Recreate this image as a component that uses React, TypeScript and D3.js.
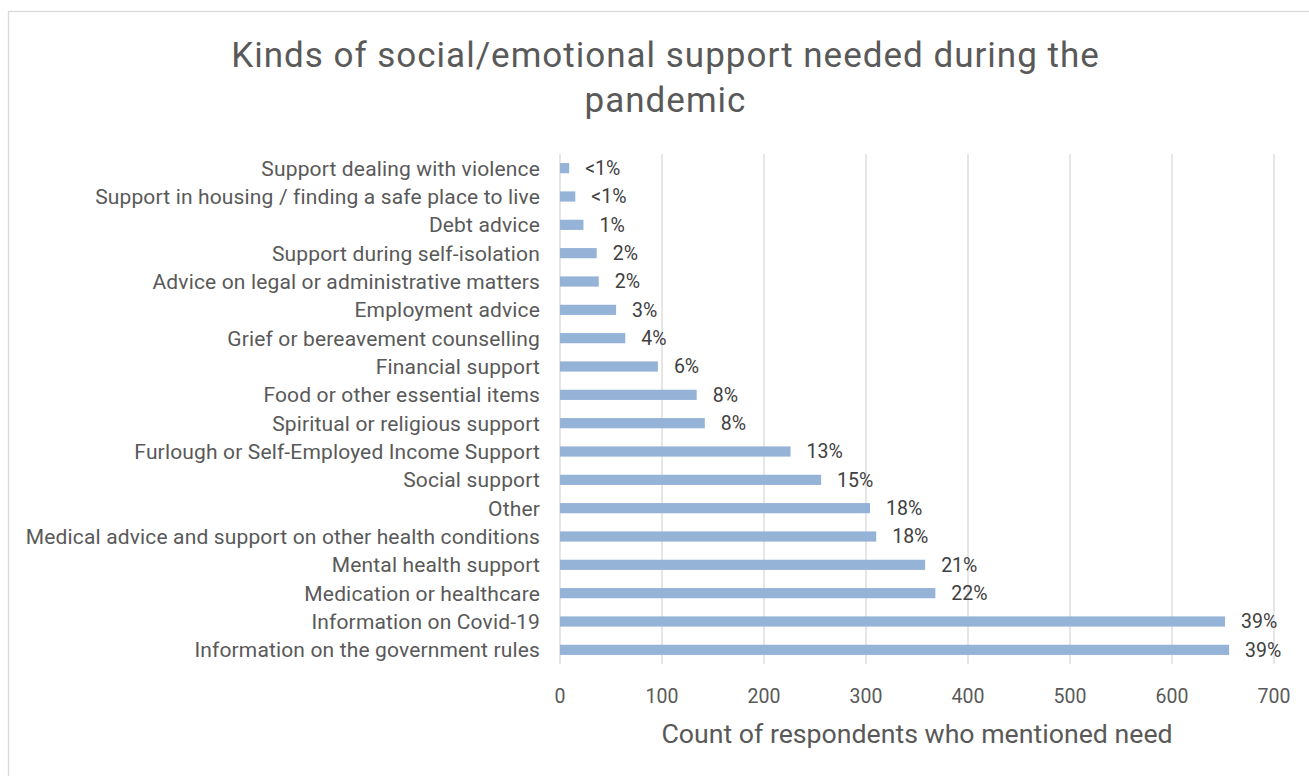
import React from "react";
import * as d3 from "d3";

const categories = [
  "Support dealing with violence",
  "Support in housing / finding a safe place to live",
  "Debt advice",
  "Support during self-isolation",
  "Advice on legal or administrative matters",
  "Employment advice",
  "Grief or bereavement counselling",
  "Financial support",
  "Food or other essential items",
  "Spiritual or religious support",
  "Furlough or Self-Employed Income Support",
  "Social support",
  "Other",
  "Medical advice and support on other health conditions",
  "Mental health support",
  "Medication or healthcare",
  "Information on Covid-19",
  "Information on the government rules",
];
const counts = [9, 15, 23, 36, 38, 55, 64, 96, 134, 142, 226, 256, 304, 310, 358, 368, 652, 656];
const pctLabels = ["<1%", "<1%", "1%", "2%", "2%", "3%", "4%", "6%", "8%", "8%", "13%", "15%", "18%", "18%", "21%", "22%", "39%", "39%"];
const xTicks = [0, 100, 200, 300, 400, 500, 600, 700];
const titleLines = ["Kinds of social/emotional support needed during the", "pandemic"];
const axisTitle = "Count of respondents who mentioned need";

const W = 1309, H = 776;
const plot = { left: 560, right: 1274, top: 154, bottom: 664 };
const FONT = "Roboto, 'Noto Sans', sans-serif";

export default function App() {
  const x = d3.scaleLinear().domain([0, 700]).range([plot.left, plot.right]);
  const y = d3.scaleBand<string>().domain(categories).range([plot.top, plot.bottom]).paddingInner(0.64).paddingOuter(0.32);
  const cx = (plot.left + plot.right) / 2;
  return (
    <svg width={W} height={H} style={{ position: "absolute", left: 0, top: 0, background: "#fff" }} fontFamily={FONT}>
      <rect x={8.5} y={11.5} width={W + 10} height={H + 10} fill="#fff" stroke="#d9d9d9" strokeWidth={1.3} />
      {titleLines.map((t, i) => (
        <text key={i} x={665.5} y={67 + i * 44.5} textAnchor="middle" fontSize={35} letterSpacing={1} fill="#595959">{t}</text>
      ))}
      {xTicks.map((t) => (
        <g key={t}>
          <line x1={x(t)} x2={x(t)} y1={plot.top} y2={plot.bottom} stroke="#d9d9d9" strokeWidth={1.3} />
          <text x={x(t)} y={703} textAnchor="middle" fontSize={19.5} fill="#595959">{t}</text>
        </g>
      ))}
      {categories.map((c, i) => {
        const yy = y(c)!;
        const bw = y.bandwidth();
        const cy = yy + bw / 2;
        return (
          <g key={c}>
            <rect x={x(0)} y={yy} width={x(counts[i]) - x(0)} height={bw} fill="#95b3d7" />
            <text x={540} y={cy} dy="0.35em" textAnchor="end" fontSize={21} letterSpacing={0.15} fill="#595959">{c}</text>
            <text x={x(counts[i]) + 16} y={cy} dy="0.35em" textAnchor="start" fontSize={19.5} fill="#404040">{pctLabels[i]}</text>
          </g>
        );
      })}
      <text x={cx} y={743} textAnchor="middle" fontSize={26.7} fill="#595959">{axisTitle}</text>
    </svg>
  );
}
